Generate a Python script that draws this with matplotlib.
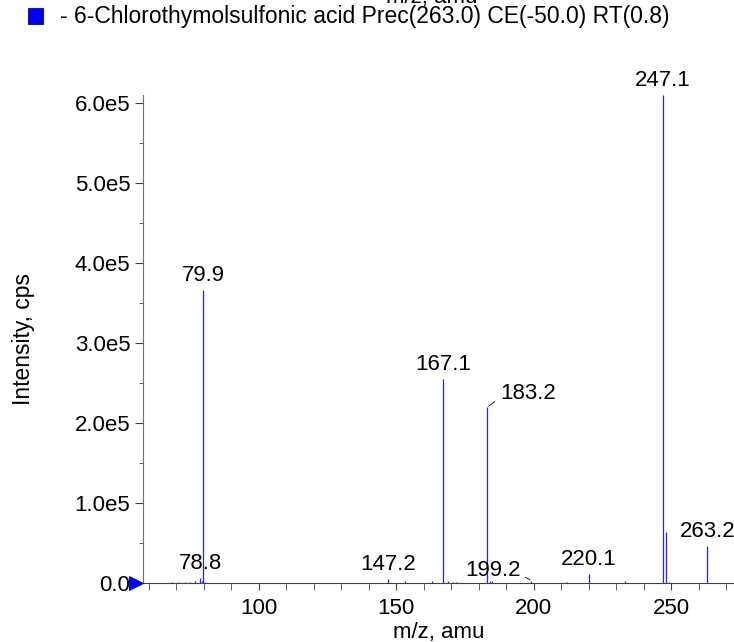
import matplotlib.pyplot as plt
from matplotlib.ticker import MultipleLocator, FuncFormatter

plt.rcParams['font.family'] = ['Liberation Sans', 'DejaVu Sans']

# m/z and intensity of the peaks
mz = [68.4, 70.8, 73.2, 75.0, 76.9, 78.8, 79.3, 79.9, 80.4,
      147.2, 153.3, 163.0, 167.1, 169.0, 170.5, 171.8,
      183.2, 184.0, 185.0, 199.2, 212.0, 220.1, 233.2, 247.1, 248.1, 249.4, 263.2]
inten = [0.008e5, 0.01e5, 0.008e5, 0.012e5, 0.02e5, 0.06e5, 0.03e5, 3.66e5, 0.015e5,
         0.05e5, 0.03e5, 0.02e5, 2.55e5, 0.02e5, 0.015e5, 0.01e5,
         2.20e5, 0.03e5, 0.02e5, 0.03e5, 0.008e5, 0.11e5, 0.025e5, 6.10e5, 0.64e5, 0.015e5, 0.46e5]

# labelled peaks: text, m/z, intensity, offset in points
labels = ["79.9", "78.8", "147.2", "167.1", "183.2", "199.2", "220.1", "247.1", "263.2"]
lab_mz = [79.9, 78.8, 147.2, 167.1, 183.2, 199.2, 220.1, 247.1, 263.2]
lab_int = [3.66e5, 0.06e5, 0.05e5, 2.55e5, 2.20e5, 0.03e5, 0.11e5, 6.10e5, 0.46e5]
lab_dx = [0, 0, 0, 0, 29, -28, 0, 0, 0]
lab_dy = [3, 3, 3, 3, 2, 0, 3, 3, 3]

fs = 16

fig = plt.figure(figsize=(7.34, 6.42), dpi=100)
ax = fig.add_axes([0.1948, 0.0919, 0.8052, 0.7601])

ax.vlines(mz, 0, inten, color='#2020ff', lw=0.9)

for t, x, y, dx, dy in zip(labels, lab_mz, lab_int, lab_dx, lab_dy):
    if dx != 0:
        ax.annotate(t, (x, y), xytext=(dx, dy), textcoords='offset points',
                    ha='center', va='bottom', fontsize=fs,
                    arrowprops=dict(arrowstyle='-', color='black', lw=0.6,
                                    shrinkA=2, shrinkB=1, relpos=(0 if dx > 0 else 1, 0.3)))
    else:
        ax.annotate(t, (x, y), xytext=(dx, dy), textcoords='offset points',
                    ha='center', va='bottom', fontsize=fs)

ax.set_xlim(57.9, 272.9)
ax.set_ylim(0, 6.1e5)

ax.xaxis.set_major_locator(MultipleLocator(50))
ax.xaxis.set_minor_locator(MultipleLocator(10))
ax.yaxis.set_major_locator(MultipleLocator(1e5))
ax.yaxis.set_minor_locator(MultipleLocator(0.5e5))
ax.yaxis.set_major_formatter(FuncFormatter(lambda v, p: "%.1fe5" % (v / 1e5) if v > 0 else "0.0"))

ax.spines['top'].set_visible(False)
ax.spines['right'].set_visible(False)
ax.spines['left'].set_color('#707070')
ax.spines['bottom'].set_color('#404040')
ax.tick_params(axis='both', which='both', labelsize=fs, color='#404040')
ax.tick_params(axis='y', which='major', length=6, pad=3)
ax.tick_params(axis='y', which='minor', length=3)
ax.tick_params(axis='x', which='both', length=5, pad=6)

# blue baseline marker at zero
ax.plot([-0.012], [0], marker='>', ms=10, color='#0000ff', mec='#000080', mew=0.6,
        transform=ax.get_yaxis_transform(), clip_on=False, zorder=5)

ax.set_xlabel("m/z, amu", fontsize=fs, labelpad=2)
ax.set_ylabel("Intensity, cps", fontsize=16.5)
ax.yaxis.set_label_coords(-0.183, 0.5)

# leftover axis title from the panel above, cut off at the top
fig.text(0.588, 1 - 3 / 642, "m/z, amu", fontsize=fs, ha='center', va='baseline')

# legend
fig.patches.append(plt.Rectangle((28 / 734, 1 - 24 / 642), 15 / 734, 16 / 642,
                                 transform=fig.transFigure, facecolor='#0000ff',
                                 edgecolor='#202060', lw=0.8))
fig.text(60 / 734, 1 - 17 / 642, "- 6-Chlorothymolsulfonic acid Prec(263.0) CE(-50.0) RT(0.8)",
         fontsize=16.5, ha='left', va='center')

fig.savefig("out.png", dpi=100)
